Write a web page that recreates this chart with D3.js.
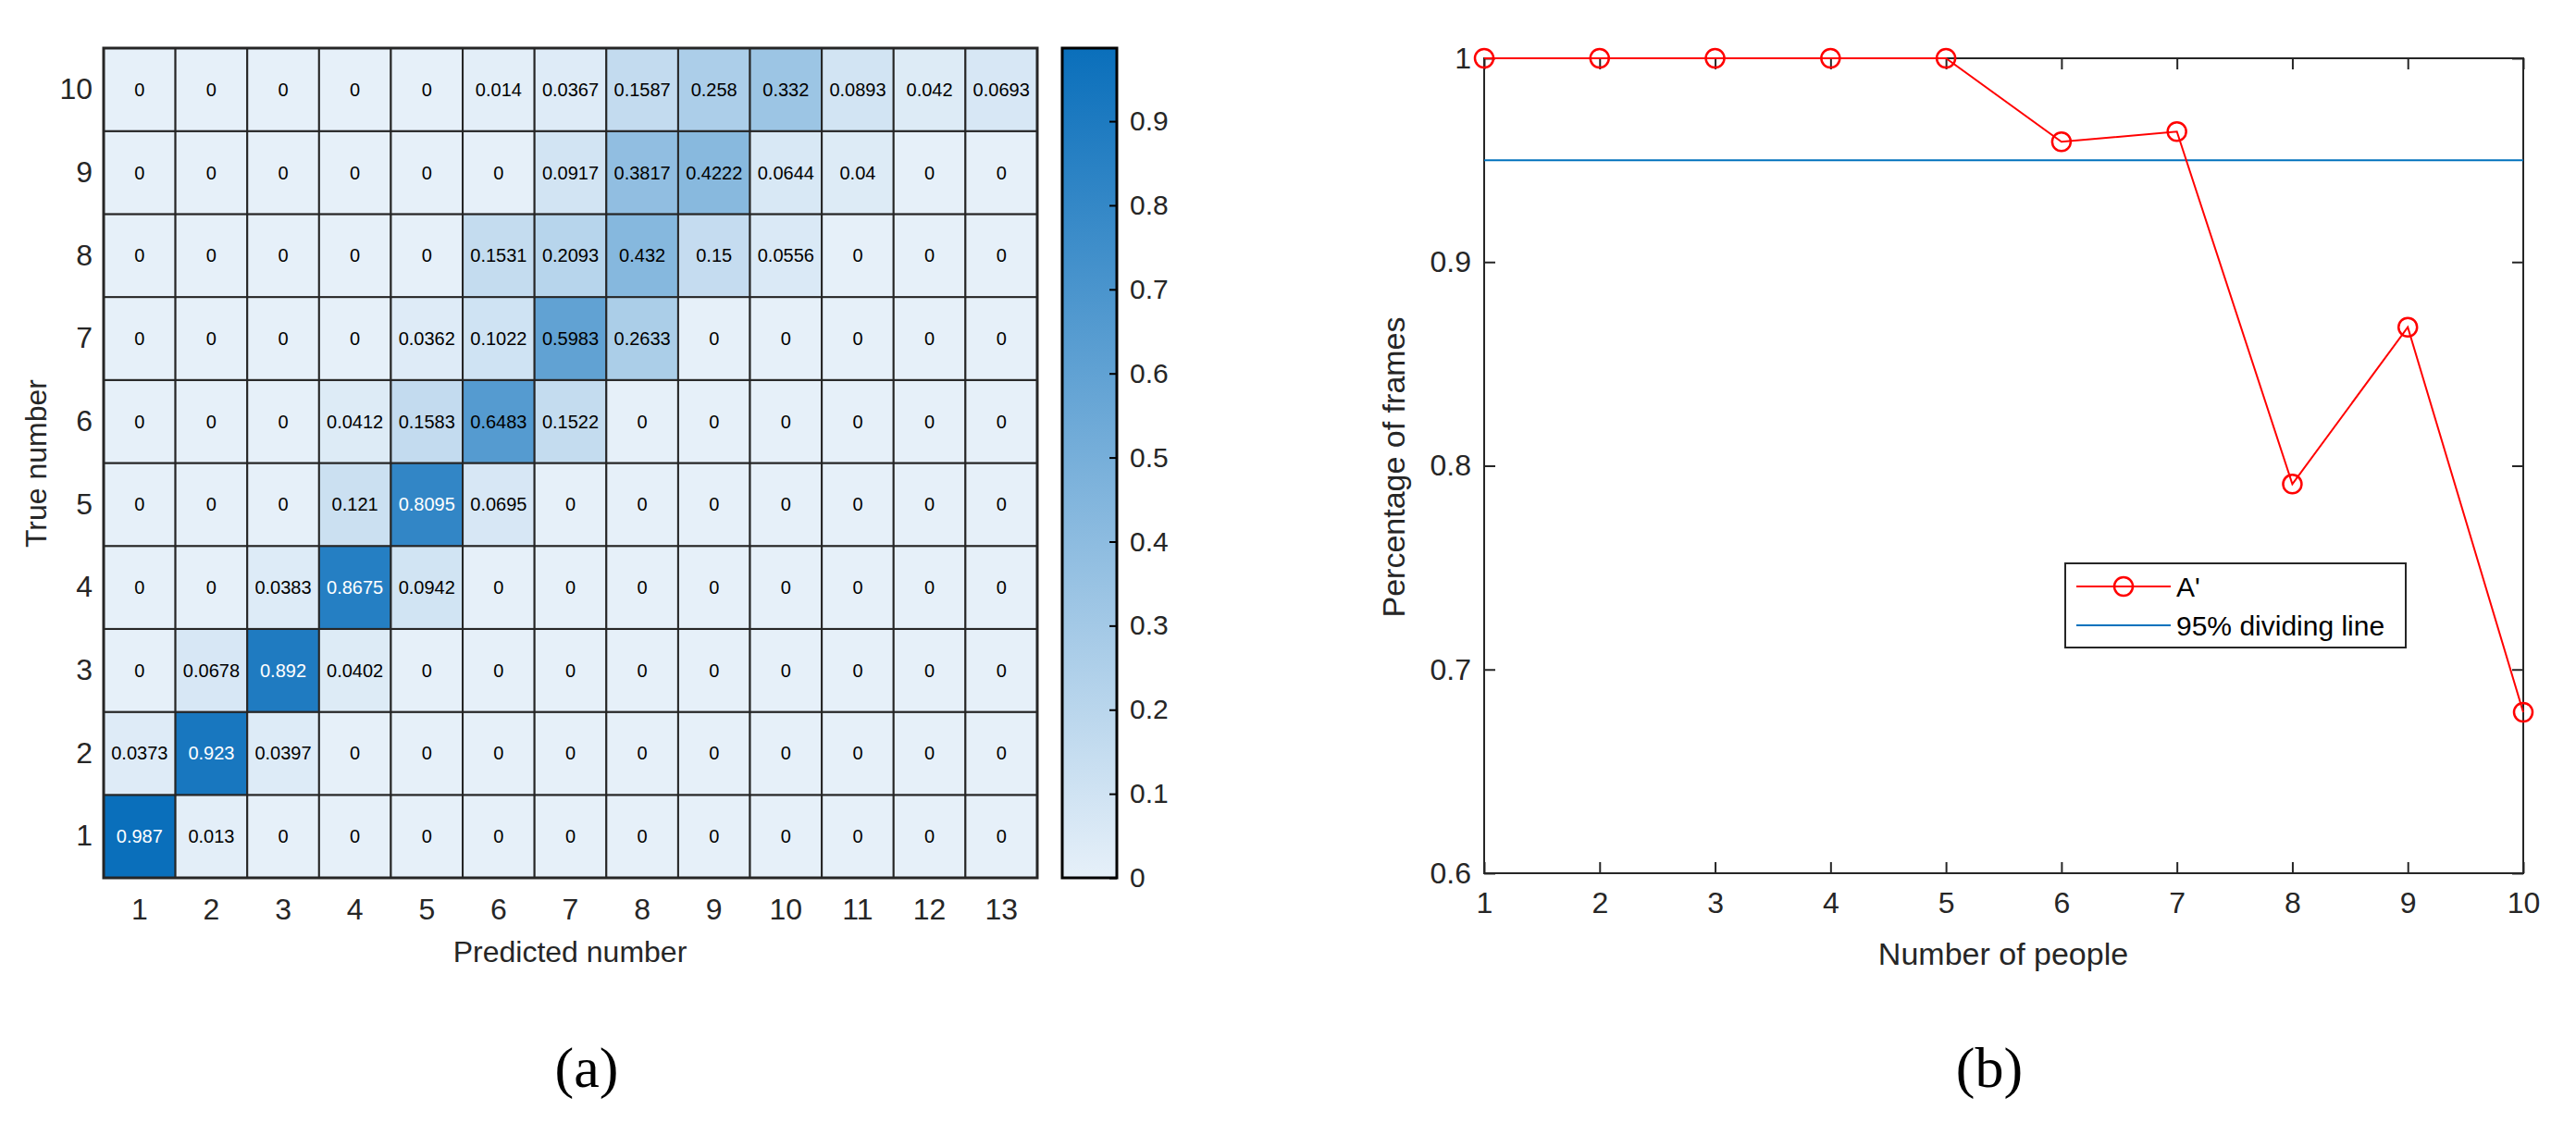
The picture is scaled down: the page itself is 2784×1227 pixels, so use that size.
<!DOCTYPE html>
<html>
<head>
<meta charset="utf-8">
<script src="https://cdn.jsdelivr.net/npm/d3@7"></script>
<style>
  body { margin: 0; background: #fff; }
  text { font-family: "Liberation Sans", Arial, sans-serif; }
</style>
</head>
<body>
<svg id="fig" width="2784" height="1227"></svg>
<script>
// confusion matrix, rows = true number 1..10, cols = predicted 1..13
var predCats = [1,2,3,4,5,6,7,8,9,10,11,12,13];
var trueCats = [1,2,3,4,5,6,7,8,9,10];
var matrix = [
  [0.987, 0.013, 0, 0, 0, 0, 0, 0, 0, 0, 0, 0, 0],
  [0.0373, 0.923, 0.0397, 0, 0, 0, 0, 0, 0, 0, 0, 0, 0],
  [0, 0.0678, 0.892, 0.0402, 0, 0, 0, 0, 0, 0, 0, 0, 0],
  [0, 0, 0.0383, 0.8675, 0.0942, 0, 0, 0, 0, 0, 0, 0, 0],
  [0, 0, 0, 0.121, 0.8095, 0.0695, 0, 0, 0, 0, 0, 0, 0],
  [0, 0, 0, 0.0412, 0.1583, 0.6483, 0.1522, 0, 0, 0, 0, 0, 0],
  [0, 0, 0, 0, 0.0362, 0.1022, 0.5983, 0.2633, 0, 0, 0, 0, 0],
  [0, 0, 0, 0, 0, 0.1531, 0.2093, 0.432, 0.15, 0.0556, 0, 0, 0],
  [0, 0, 0, 0, 0, 0, 0.0917, 0.3817, 0.4222, 0.0644, 0.04, 0, 0],
  [0, 0, 0, 0, 0, 0.014, 0.0367, 0.1587, 0.258, 0.332, 0.0893, 0.042, 0.0693]
];
var cbTicks = [0, 0.1, 0.2, 0.3, 0.4, 0.5, 0.6, 0.7, 0.8, 0.9];

// line chart
var people = [1,2,3,4,5,6,7,8,9,10];
var frames = [1, 1, 1, 1, 1, 0.959, 0.964, 0.791, 0.868, 0.679];
var threshold = 0.95;
var yTicksB = [0.6, 0.7, 0.8, 0.9, 1];

var svg = d3.select("#fig");
var ink = "#262626";

// ---------- (a) heatmap ----------
var hx = d3.scaleBand().domain(predCats).range([112, 1121]);
var hy = d3.scaleBand().domain(trueCats.slice().reverse()).range([52, 949]);
var vmax = 0.987;
var color = d3.scaleLinear().domain([0, vmax])
  .range(["#e6f0f9", "#0a6fbb"]).interpolate(d3.interpolateRgb);

var cells = [];
matrix.forEach(function(row, i) {
  row.forEach(function(v, j) { cells.push({t: trueCats[i], p: predCats[j], v: v}); });
});

var ga = svg.append("g");
ga.selectAll("rect.cell").data(cells).enter().append("rect")
  .attr("x", function(d) { return hx(d.p); })
  .attr("y", function(d) { return hy(d.t); })
  .attr("width", hx.bandwidth())
  .attr("height", hy.bandwidth())
  .attr("fill", function(d) { return color(d.v); })
  .attr("stroke", ink).attr("stroke-width", 2);

ga.selectAll("text.val").data(cells).enter().append("text")
  .attr("x", function(d) { return hx(d.p) + hx.bandwidth() / 2; })
  .attr("y", function(d) { return hy(d.t) + hy.bandwidth() / 2; })
  .attr("dy", "0.35em")
  .attr("text-anchor", "middle")
  .attr("font-size", 20)
  .attr("fill", function(d) { return d.v > 0.7 ? "#fff" : "#000"; })
  .text(function(d) { return String(d.v); });

ga.append("rect").attr("x", 112).attr("y", 52).attr("width", 1009).attr("height", 897)
  .attr("fill", "none").attr("stroke", ink).attr("stroke-width", 3);

ga.append("g").attr("transform", "translate(0,949)")
  .call(d3.axisBottom(hx).tickSize(0).tickPadding(22))
  .call(function(g) { g.select(".domain").remove(); })
  .selectAll("text").attr("font-size", 32).attr("fill", ink)
  .style("font-family", "Liberation Sans, Arial, sans-serif");

ga.append("g").attr("transform", "translate(112,0)")
  .call(d3.axisLeft(hy).tickSize(0).tickPadding(12))
  .call(function(g) { g.select(".domain").remove(); })
  .selectAll("text").attr("font-size", 32).attr("fill", ink)
  .style("font-family", "Liberation Sans, Arial, sans-serif");

ga.append("text").attr("x", 616).attr("y", 1040).attr("text-anchor", "middle")
  .attr("font-size", 32).attr("fill", ink).text("Predicted number");
ga.append("text").attr("transform", "translate(50,501) rotate(-90)").attr("text-anchor", "middle")
  .attr("font-size", 32).attr("fill", ink).text("True number");

// colorbar
var cy = d3.scaleLinear().domain([0, vmax]).range([949, 52]);
var defs = svg.append("defs");
var grad = defs.append("linearGradient").attr("id", "cb")
  .attr("x1", 0).attr("y1", 1).attr("x2", 0).attr("y2", 0);
grad.append("stop").attr("offset", 0).attr("stop-color", color(0));
grad.append("stop").attr("offset", 1).attr("stop-color", color(vmax));
ga.append("rect").attr("x", 1148).attr("y", 52).attr("width", 59).attr("height", 897)
  .attr("fill", "url(#cb)").attr("stroke", "#000").attr("stroke-width", 3);
ga.append("g").attr("transform", "translate(1207,0)")
  .call(d3.axisRight(cy).tickValues(cbTicks).tickSize(-8).tickPadding(14).tickFormat(d3.format("")))
  .call(function(g) { g.select(".domain").remove(); })
  .call(function(g) { g.selectAll("line").attr("stroke", "#000").attr("stroke-width", 2); })
  .selectAll("text").attr("font-size", 30).attr("fill", ink)
  .style("font-family", "Liberation Sans, Arial, sans-serif");

svg.append("text").attr("x", 634).attr("y", 1175).attr("text-anchor", "middle")
  .attr("font-size", 62).style("font-family", "Liberation Serif, serif").attr("fill", "#000").text("(a)");

// ---------- (b) line chart ----------
var L = 1604, R = 2727, T = 63, B = 944;
var bx = d3.scaleLinear().domain([1, 10]).range([L, R]);
var by = d3.scaleLinear().domain([0.6, 1]).range([B, T]);
var gb = svg.append("g");

function styleAxis(g) {
  g.select(".domain").remove();
  g.selectAll("line").attr("stroke", ink).attr("stroke-width", 2);
  g.selectAll("text").attr("font-size", 32).attr("fill", ink)
    .style("font-family", "Liberation Sans, Arial, sans-serif");
}
gb.append("g").attr("transform", "translate(0," + B + ")")
  .call(d3.axisBottom(bx).tickValues(people).tickSize(-12).tickPadding(20).tickFormat(d3.format("d")))
  .call(styleAxis);
gb.append("g").attr("transform", "translate(0," + T + ")")
  .call(d3.axisTop(bx).tickValues(people).tickSize(-12).tickFormat(""))
  .call(styleAxis);
gb.append("g").attr("transform", "translate(" + L + ",0)")
  .call(d3.axisLeft(by).tickValues(yTicksB).tickSize(-12).tickPadding(14).tickFormat(d3.format("")))
  .call(styleAxis);
gb.append("g").attr("transform", "translate(" + R + ",0)")
  .call(d3.axisRight(by).tickValues(yTicksB).tickSize(-12).tickFormat(""))
  .call(styleAxis);
gb.append("rect").attr("x", L).attr("y", T).attr("width", R - L).attr("height", B - T)
  .attr("fill", "none").attr("stroke", ink).attr("stroke-width", 2);

gb.append("line").attr("x1", L).attr("x2", R)
  .attr("y1", by(threshold)).attr("y2", by(threshold))
  .attr("stroke", "#0072bd").attr("stroke-width", 2);

var pts = people.map(function(p, i) { return {x: p, y: frames[i]}; });
gb.append("path").datum(pts)
  .attr("d", d3.line().x(function(d) { return bx(d.x); }).y(function(d) { return by(d.y); }))
  .attr("fill", "none").attr("stroke", "#ff0000").attr("stroke-width", 2);
gb.selectAll("circle.pt").data(pts).enter().append("circle")
  .attr("cx", function(d) { return bx(d.x); })
  .attr("cy", function(d) { return by(d.y); })
  .attr("r", 10).attr("fill", "none").attr("stroke", "#ff0000").attr("stroke-width", 2.5);

gb.append("text").attr("x", 2165).attr("y", 1043).attr("text-anchor", "middle")
  .attr("font-size", 34).attr("fill", ink).text("Number of people");
gb.append("text").attr("transform", "translate(1518,505) rotate(-90)").attr("text-anchor", "middle")
  .attr("font-size", 34).attr("fill", ink).text("Percentage of frames");

// legend
var lg = gb.append("g").attr("transform", "translate(2232,609)");
lg.append("rect").attr("width", 368).attr("height", 91).attr("fill", "#fff")
  .attr("stroke", ink).attr("stroke-width", 2);
lg.append("line").attr("x1", 12).attr("x2", 114).attr("y1", 25).attr("y2", 25)
  .attr("stroke", "#ff0000").attr("stroke-width", 2);
lg.append("circle").attr("cx", 63).attr("cy", 25).attr("r", 10)
  .attr("fill", "none").attr("stroke", "#ff0000").attr("stroke-width", 2.5);
lg.append("text").attr("x", 120).attr("y", 25).attr("dy", "0.35em")
  .attr("font-size", 30).attr("fill", "#000").text("A'");
lg.append("line").attr("x1", 12).attr("x2", 114).attr("y1", 67).attr("y2", 67)
  .attr("stroke", "#0072bd").attr("stroke-width", 2);
lg.append("text").attr("x", 120).attr("y", 67).attr("dy", "0.35em")
  .attr("font-size", 30).attr("fill", "#000").text("95% dividing line");

svg.append("text").attr("x", 2150).attr("y", 1175).attr("text-anchor", "middle")
  .attr("font-size", 62).style("font-family", "Liberation Serif, serif").attr("fill", "#000").text("(b)");
</script>
</body>
</html>
